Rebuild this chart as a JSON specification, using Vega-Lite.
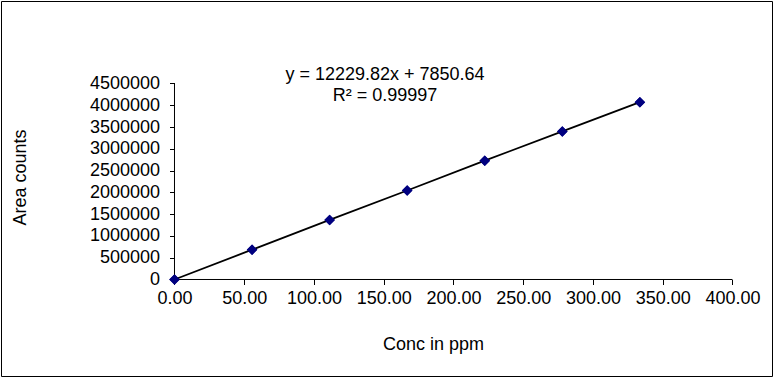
{
  "$schema": "https://vega.github.io/schema/vega-lite/v6.json",
  "width": 771,
  "height": 375,
  "autosize": {"type": "none"},
  "padding": {"left": 1, "top": 1, "right": 1, "bottom": 1},
  "background": "white",
  "config": {
    "view": {"stroke": "black", "strokeWidth": 1},
    "font": "Liberation Sans",
    "axis": {"grid": false, "domain": false, "tickColor": "black", "tickSize": 5, "tickWidth": 1, "labelColor": "black", "labelFontSize": 18, "labelFont": "Liberation Sans", "titleFont": "Liberation Sans", "titleFontSize": 18, "titleFontWeight": "normal", "titleColor": "black", "labelOverlap": false, "labelFlush": false}
  },
  "data": {
    "values": [
      {"conc": 0, "area": 0},
      {"conc": 55.6, "area": 684000},
      {"conc": 111.2, "area": 1367000},
      {"conc": 166.8, "area": 2043000},
      {"conc": 222.4, "area": 2728000},
      {"conc": 278.0, "area": 3400000},
      {"conc": 333.6, "area": 4072000}
    ]
  },
  "layer": [
    {
      "mark": {"type": "point", "shape": "diamond", "filled": true, "color": "#000080", "size": 110, "opacity": 1},
      "encoding": {
        "x": {
          "field": "conc", "type": "quantitative",
          "scale": {"domain": [-124.37, 428.32], "nice": false, "zero": false},
          "axis": {"values": [0, 50, 100, 150, 200, 250, 300, 350, 400], "format": ".2f", "offset": -96.5, "labelPadding": 5, "title": "Conc in ppm", "titleX": 432, "titleY": 64.5, "titleBaseline": "middle", "titleAlign": "center"}
        },
        "y": {
          "field": "area", "type": "quantitative",
          "scale": {"domain": [-2215600, 6394100], "nice": false, "zero": false},
          "axis": {"values": [0, 500000, 1000000, 1500000, 2000000, 2500000, 3000000, 3500000, 4000000, 4500000], "format": "d", "offset": -173.5, "labelPadding": 10, "title": "Area counts", "titleX": -154.5, "titleY": 176, "titleBaseline": "middle", "titleAlign": "center", "titleAngle": -90}
        }
      }
    },
    {
      "data": {"values": [{}]},
      "mark": {"type": "rule", "color": "black", "strokeWidth": 1},
      "encoding": {
        "x": {"datum": 0, "type": "quantitative"},
        "x2": {"datum": 400},
        "y": {"datum": 0, "type": "quantitative"}
      }
    },
    {
      "data": {"values": [{}]},
      "mark": {"type": "rule", "color": "black", "strokeWidth": 1},
      "encoding": {
        "x": {"datum": 0, "type": "quantitative"},
        "y": {"datum": 0, "type": "quantitative"},
        "y2": {"datum": 4500000}
      }
    },
    {
      "mark": {"type": "line", "color": "black", "strokeWidth": 1.8},
      "encoding": {
        "x": {"field": "conc", "type": "quantitative"},
        "y": {"field": "area", "type": "quantitative"}
      }
    },
    {
      "mark": {"type": "point", "shape": "diamond", "filled": true, "color": "#000080", "size": 110, "opacity": 1},
      "encoding": {
        "x": {"field": "conc", "type": "quantitative"},
        "y": {"field": "area", "type": "quantitative"}
      }
    },
    {
      "data": {"values": [{}]},
      "mark": {"type": "text", "align": "center", "baseline": "middle", "fontSize": 18, "lineHeight": 20.5, "fill": "black", "font": "Liberation Sans", "fontWeight": "normal"},
      "encoding": {
        "x": {"datum": 150.9, "type": "quantitative"},
        "y": {"datum": 4689000, "type": "quantitative"},
        "text": {"value": ["y = 12229.82x + 7850.64", "R² = 0.99997"]}
      }
    }
  ]
}
